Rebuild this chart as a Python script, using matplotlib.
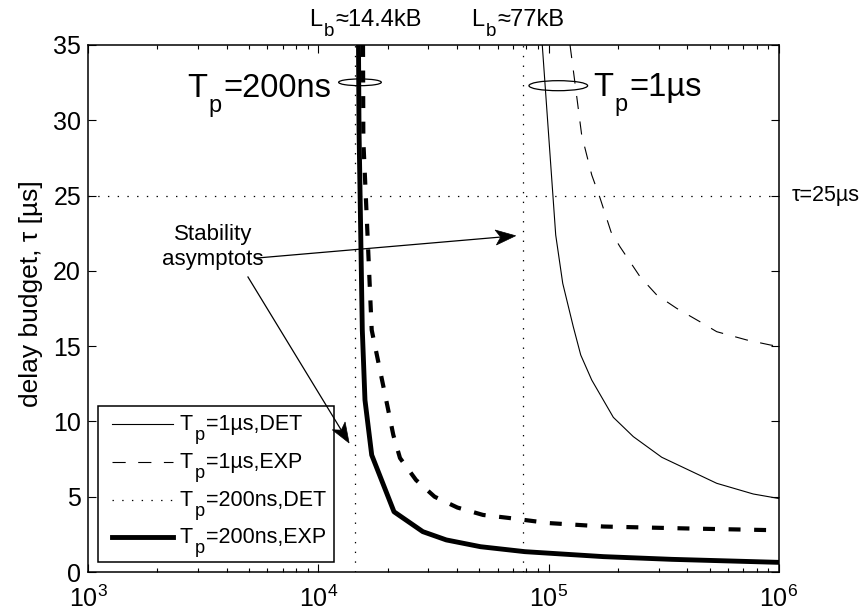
import matplotlib
matplotlib.use("Agg")
import matplotlib.pyplot as plt
import matplotlib.transforms as mtransforms
import numpy as np
from matplotlib.patches import Ellipse, Rectangle, Polygon
from matplotlib.lines import Line2D
from matplotlib.font_manager import findfont, FontProperties
from matplotlib.ft2font import FT2Font
from matplotlib.ticker import LogLocator, LogFormatterSciNotation, NullFormatter, MultipleLocator

plt.rcParams['font.family'] = ['Liberation Sans', 'DejaVu Sans']
plt.rcParams['mathtext.fontset'] = 'custom'
plt.rcParams['mathtext.rm'] = 'Liberation Sans'
plt.rcParams['mathtext.it'] = 'Liberation Sans:italic'
plt.rcParams['mathtext.default'] = 'regular'
plt.rcParams['lines.scale_dashes'] = False

# Buffer size L_b [bytes] versus delay budget tau [us]
L_1us_det = [93.8e3, 107.3e3, 115.1e3, 127.9e3, 137.8e3, 153.8e3, 190.9e3,
             233.1e3, 309.7e3, 536.6e3, 773.5e3, 1e6]
tau_1us_det = [35.0, 22.38, 19.17, 16.29, 14.41, 12.75, 10.27,
               8.99, 7.62, 5.89, 5.18, 4.88]

L_1us_exp = [123.8e3, 132.4e3, 139.1e3, 153.8e3, 167.1e3, 186.6e3, 204.0e3,
             249.3e3, 294.5e3, 359.6e3, 453.9e3, 536.6e3, 724.1e3, 914e3, 1e6]
tau_1us_exp = [35.0, 31.57, 29.02, 26.37, 24.84, 22.58, 21.6,
               19.61, 18.4, 17.51, 16.62, 15.96, 15.41, 15.08, 14.98]

L_200ns_det = [15.63e3, 15.68e3, 17.05e3, 20.07e3, 21.16e3, 22.62e3, 26.55e3,
               31.97e3, 40.16e3, 51.87e3, 67.07e3, 100.0e3, 173.2e3, 402.7e3, 1e6]
tau_200ns_det = [35.0, 28.69, 16.07, 10.83, 9.1, 7.57, 6.11,
                 5.0, 4.28, 3.79, 3.59, 3.25, 3.02, 2.89, 2.77]

L_200ns_exp = [14.94e3, 15.02e3, 15.52e3, 15.94e3, 17.05e3, 21.31e3, 28.42e3,
               35.94e3, 50.6e3, 78.9e3, 173.2e3, 343.1e3, 1e6]
tau_200ns_exp = [35.0, 29.35, 16.07, 11.42, 7.77, 4.0, 2.68,
                 2.13, 1.68, 1.35, 1.02, 0.84, 0.64]

# Stability asymptotes and the reference delay budget
L_asym = [14.4e3, 77e3]
tau_ref = 25

# Legend entries as (text, is_subscript) pieces
legend_entries = [
    [('T', False), ('p', True), ('=1µs,DET', False)],
    [('T', False), ('p', True), ('=1µs,EXP', False)],
    [('T', False), ('p', True), ('=200ns,DET', False)],
    [('T', False), ('p', True), ('=200ns,EXP', False)],
]

fig = plt.figure(figsize=(8.66, 6.16), dpi=100)
ax = fig.add_axes([88 / 866, 44 / 616, 691 / 866, 527 / 616])

_ft = FT2Font(findfont(FontProperties(family='Liberation Sans')))


def text_width(s, size):
    """Rendered width of a string in points."""
    _ft.set_size(size, 72)
    _ft.set_text(s, 0.0)
    return _ft.get_width_height()[0] / 64.0


def script_text(x, y, parts, size, transform, ha='left', sub_scale=0.8,
                drop=0.45, **kw):
    """Text with TeX-style subscripts: large, well-lowered sub pieces."""
    gap = 0.06 * size
    sizes = [size * sub_scale if sub else size for _, sub in parts]
    widths = [text_width(s, fs) for (s, _), fs in zip(parts, sizes)]
    total = sum(widths) + gap * (len(parts) - 1)
    off = {'left': 0.0, 'center': -total / 2, 'right': -total}[ha]
    for (s, sub), fs, w in zip(parts, sizes, widths):
        dy = -drop * size if sub else 0.0
        tr = transform + mtransforms.ScaledTranslation(off / 72, dy / 72,
                                                       fig.dpi_scale_trans)
        ax.text(x, y, s, transform=tr, fontsize=fs, ha='left',
                va='baseline', clip_on=False, **kw)
        off += w + gap


dot = (0, (1.0, 6.0))
dash_thin = (0, (9.5, 9.0))
dash_thick = (0, (8.6, 9.8))

for La in L_asym:
    ax.plot([La, La], [0, 35], color='k', lw=0.9, linestyle=dot)
ax.axhline(tau_ref, color='k', lw=0.9, linestyle=dot)

ax.plot(L_1us_det, tau_1us_det, color='k', lw=0.8)
ax.plot(L_1us_exp, tau_1us_exp, color='k', lw=0.8, linestyle=dash_thin)
ax.plot(L_200ns_det, tau_200ns_det, color='k', lw=3.0, linestyle=dash_thick)
ax.plot(L_200ns_exp, tau_200ns_exp, color='k', lw=3.5)

ax.set_xscale('log')
ax.set_xlim(1e3, 1e6)
ax.set_ylim(0, 35)
ax.yaxis.set_major_locator(MultipleLocator(5))
ax.xaxis.set_major_locator(LogLocator(base=10, numticks=10))
ax.xaxis.set_minor_locator(LogLocator(base=10, subs=np.arange(2, 10), numticks=20))
ax.xaxis.set_major_formatter(LogFormatterSciNotation())
ax.xaxis.set_minor_formatter(NullFormatter())

ax.tick_params(which='both', direction='in', top=True, right=True, width=0.8)
ax.tick_params(which='major', length=5.5, labelsize=18)
ax.tick_params(which='minor', length=2.6)
ax.tick_params(axis='x', pad=10)
ax.tick_params(axis='y', pad=5)
for s in ax.spines.values():
    s.set_linewidth(1.1)

ax.set_ylabel('delay budget, τ [µs]', fontsize=19)
ax.yaxis.set_label_coords(-0.0651, 0.5275)

# Legend box drawn in axes coordinates
ax.add_patch(Rectangle((0.0149, 0.0195), 0.356 - 0.0149, 0.3150 - 0.0195,
                       transform=ax.transAxes, fc='white', ec='k', lw=1.1,
                       zorder=5))
legend_styles = [dict(lw=0.8), dict(lw=0.8, linestyle=dash_thin),
                 dict(lw=0.9, linestyle=dot), dict(lw=3.5)]
line_y = [0.2799, 0.2078, 0.1357, 0.0655]
base_y = [0.2694, 0.1973, 0.1252, 0.0550]
for parts, style, ly, by in zip(legend_entries, legend_styles, line_y, base_y):
    ax.plot([0.0343, 0.1234], [ly, ly], transform=ax.transAxes, color='k',
            zorder=6, clip_on=False, **style)
    script_text(0.1331, by, parts, 15.5, ax.transAxes, sub_scale=0.85,
                drop=0.47, zorder=7)

# Buffer sizes of the asymptotes, above the axes
script_text(0.402, 1.036, [('L', False), ('b', True), ('≈14.4kB', False)],
            17, ax.transAxes, ha='center', sub_scale=0.8, drop=0.42)
script_text(0.622, 1.036, [('L', False), ('b', True), ('≈77kB', False)],
            17, ax.transAxes, ha='center', sub_scale=0.8, drop=0.42)

# Curve-group markers
ax.add_patch(Ellipse((0.3936, 0.9292), 0.0618, 0.0128, transform=ax.transAxes,
                     fill=False, ec='k', lw=0.9))
ax.add_patch(Ellipse((0.6806, 0.9228), 0.0849, 0.019, transform=ax.transAxes,
                     fill=False, ec='k', lw=0.9))
script_text(0.3517, 0.9013, [('T', False), ('p', True), ('=200ns', False)],
            23.5, ax.transAxes, ha='right', sub_scale=0.72, drop=0.45)
script_text(0.7308, 0.9023, [('T', False), ('p', True), ('=1µs', False)],
            23.5, ax.transAxes, ha='left', sub_scale=0.72, drop=0.45)

# Reference budget label on the right
trans = mtransforms.blended_transform_factory(ax.transAxes, ax.transData)
ax.text(1.0184, tau_ref, 'τ=25µs', transform=trans, ha='left', va='center',
        fontsize=15.5, clip_on=False)

# Stability asymptote annotation with notched arrowheads
ax.text(0.1809, 0.6167, 'Stability\nasymptots', transform=ax.transAxes,
        ha='center', va='center', fontsize=16, linespacing=1.3)


def notched_arrow(start_axes, tip_data, head_len=20, half_w=7.5, notch=5):
    p0 = ax.transAxes.transform(start_axes)
    p1 = ax.transData.transform(tip_data)
    d = (p1 - p0) / np.hypot(*(p1 - p0))
    n = np.array([-d[1], d[0]])
    back = p1 - d * head_len
    inner = p1 - d * (head_len - notch)
    head = np.array([p1, back + n * half_w, inner, back - n * half_w])
    to_fig = fig.transFigure.inverted()
    shaft = to_fig.transform(np.array([p0, inner]))
    fig.add_artist(Line2D(shaft[:, 0], shaft[:, 1], color='k', lw=0.9,
                          transform=fig.transFigure))
    fig.add_artist(Polygon(to_fig.transform(head), closed=True, fc='k',
                           ec='k', lw=0.5, transform=fig.transFigure))


notched_arrow((0.2446, 0.5958), (71.9e3, 22.33))
notched_arrow((0.2315, 0.5598), (13.6e3, 8.57))

fig.savefig('out.png', dpi=100)
